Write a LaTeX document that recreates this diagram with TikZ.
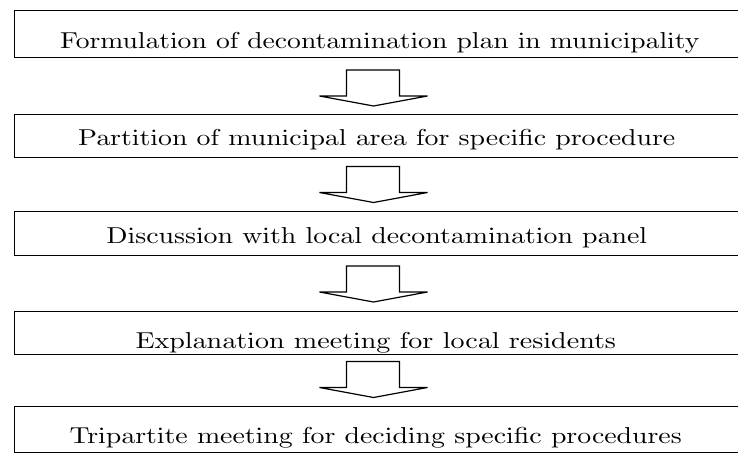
\documentclass[tikz,border=0pt]{standalone}
\font\steprm=cmr10 at 23pt
\begin{document}
\begin{tikzpicture}[x=1pt,y=-1pt,
  stepbox/.style={draw, line width=1.2pt, inner sep=0pt, anchor=north west, minimum width=760pt},
  steptext/.style={anchor=base, inner sep=0pt, font=\steprm},
  flow/.style={draw, line width=1.2pt, line join=miter},
  downarrow/.pic={\draw[flow] (-27,-18) -- (26,-18) -- (26,8) -- (54,8) -- (0,18) -- (-54,8) -- (-27,8) -- cycle;}]
\useasboundingbox (0,0) rectangle (738,453);
\clip (0,0) rectangle (738,453);
% texts
\node[steptext] (t1) at (380,48) {\scalebox{1.2}[1]{Formulation of decontamination plan in municipality}};
\node[steptext] (t2) at (377,145) {\scalebox{1.21}[1]{Partition of municipal area for specific procedure}};
\node[steptext] (t3) at (377,243) {\scalebox{1.21}[1]{Discussion with local decontamination panel}};
\node[steptext] (t4) at (376,348.5) {\scalebox{1.22}[1]{Explanation meeting for local residents}};
\node[steptext] (t5) at (376,443) {\scalebox{1.21}[1]{Tripartite meeting for deciding specific procedures}};
% boxes
\node[stepbox, minimum height=47pt] (b1) at (14,10) {};
\node[stepbox, minimum height=43pt] (b2) at (14,114) {};
\node[stepbox, minimum height=44pt] (b3) at (14,211) {};
\node[stepbox, minimum height=43pt] (b4) at (14,311) {};
\node[stepbox, minimum height=46pt] (b5) at (14,406) {};
% arrows
\pic (a1) at (373.5,88) {downarrow};
\pic (a2) at (373.5,184.5) {downarrow};
\pic (a3) at (373.5,284) {downarrow};
\pic (a4) at (373.5,379.5) {downarrow};
\end{tikzpicture}
\end{document}
